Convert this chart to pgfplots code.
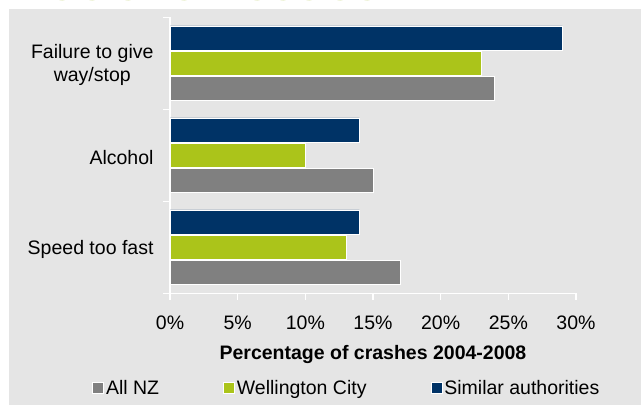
\documentclass[border=0pt]{standalone}
\usepackage{pgfplots}
\pgfplotsset{compat=1.18}
\usepackage{fontspec}
\setmainfont{Liberation Sans}
\definecolor{bg}{HTML}{E5E5E5}
\definecolor{navy}{HTML}{003366}
\definecolor{lime}{HTML}{ABC41A}
\definecolor{grayb}{HTML}{808080}
\definecolor{dotg}{HTML}{D8E3A6}
\newcommand{\fs}{\fontsize{19.5bp}{23bp}\selectfont}
\begin{document}
\begin{tikzpicture}
\useasboundingbox (0bp,0bp) rectangle (641bp,-405bp);
\fill[bg] (9bp,-9bp) rectangle (641bp,-405bp);
\foreach \xx in {62,92,128,184,257,283,309,340,367}
  \fill[dotg] (\xx bp,1bp) ellipse (4bp and 1.5bp);
\begin{axis}[
  at={(170bp,-293.3bp)}, anchor=south west,
  scale only axis, width=406bp, height=276bp,
  xbar=1.4bp, bar width=24bp,
  xmin=0, xmax=30, ymin=-0.5, ymax=2.5,
  axis x line*=bottom, axis y line*=left,
  axis line style={white, line width=1.2bp, -},
  /pgf/number format/assume math mode=true,
  xtick={0,5,...,30},
  xticklabel={\pgfmathprintnumber{\tick}\%},
  ytick={-0.5,0.5,1.5,2.5},
  yticklabels={},
  extra y ticks={0,1,2},
  extra y tick labels={Speed too fast, Alcohol, {Failure to give\\way/stop}},
  extra y tick style={major tick length=0pt, yticklabel style={align=center, xshift=-13bp, yshift=-2bp}},
  tick align=outside,
  major tick length=6.5bp,
  tick style={white, line width=1.2bp},
  ticklabel style={font=\fs, text=black},
  xticklabel style={yshift=-13bp},
  xlabel={Percentage of crashes 2004-2008},
  xlabel style={font=\fs\bfseries, yshift=-8bp},
  every axis plot/.append style={draw=white, line width=0.8bp},
  legend image code/.code={\draw[#1] (0bp,-5.5bp) rectangle (11bp,5.5bp);},
  legend columns=3,
  legend style={at={(axis description cs:-0.192,-0.343)}, anchor=west,
    draw=none, fill=none, font=\fs, inner sep=0pt,
    /tikz/every even column/.append style={column sep=62bp}},
]
\addplot[fill=grayb] coordinates {(17,0) (15,1) (24,2)};
\addplot[fill=lime] coordinates {(13,0) (10,1) (23,2)};
\addplot[fill=navy] coordinates {(14,0) (14,1) (29,2)};
\legend{All NZ, Wellington City, Similar authorities}
\end{axis}
\end{tikzpicture}
\end{document}
